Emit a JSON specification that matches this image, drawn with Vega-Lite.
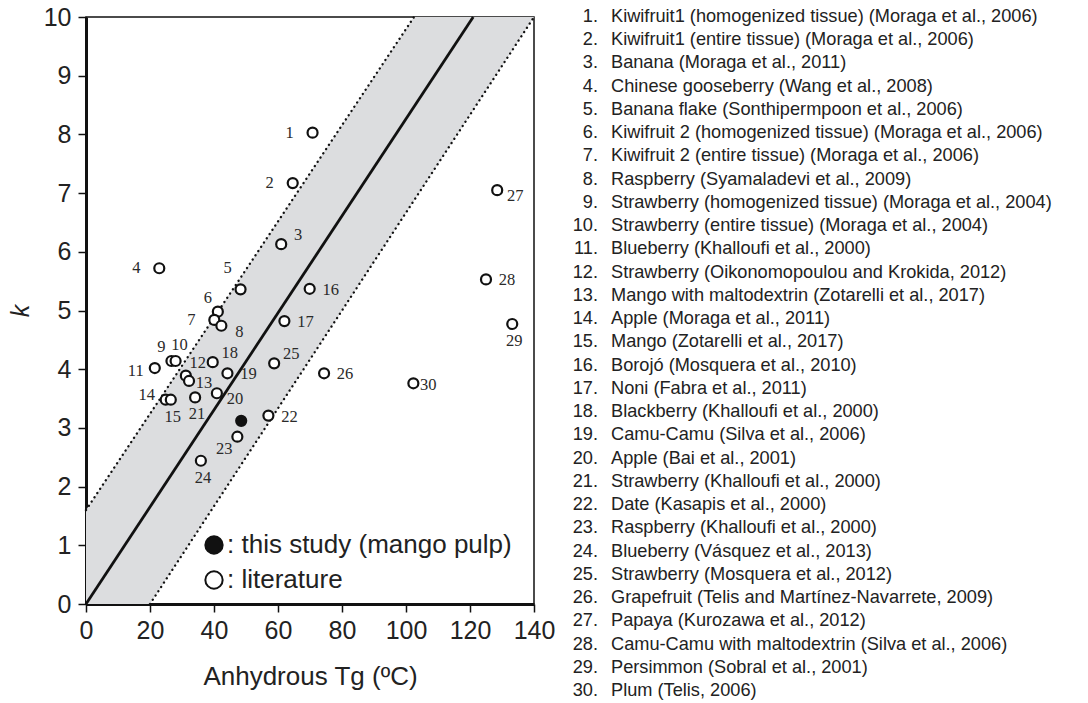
{
  "$schema": "https://vega.github.io/schema/vega-lite/v6.json",
  "background": "white",
  "padding": {"left": 7, "top": 4, "right": 0, "bottom": 0},
  "spacing": 1,
  "bounds": "flush",
  "config": {
    "font": "Liberation Sans",
    "view": {"stroke": "#111", "strokeWidth": 1.5},
    "axis": {
      "grid": false,
      "domainColor": "#111",
      "domainWidth": 3,
      "tickColor": "#111",
      "tickWidth": 1.5,
      "tickSize": 8,
      "labelFont": "Liberation Sans",
      "labelFontSize": 25,
      "labelColor": "#222",
      "titleFont": "Liberation Sans",
      "titleFontSize": 26,
      "titleFontWeight": "normal",
      "titleColor": "#222"
    }
  },
  "datasets": {
    "points": [
      {"id": 1, "name": "Kiwifruit1 (homogenized tissue) (Moraga et al., 2006)", "Tg": 70.8, "k": 8.03, "source": "literature"},
      {"id": 2, "name": "Kiwifruit1 (entire tissue) (Moraga et al., 2006)", "Tg": 64.6, "k": 7.17, "source": "literature"},
      {"id": 3, "name": "Banana (Moraga et al., 2011)", "Tg": 61.0, "k": 6.13, "source": "literature"},
      {"id": 4, "name": "Chinese gooseberry (Wang et al., 2008)", "Tg": 22.9, "k": 5.72, "source": "literature"},
      {"id": 5, "name": "Banana flake (Sonthipermpoon et al., 2006)", "Tg": 48.3, "k": 5.36, "source": "literature"},
      {"id": 6, "name": "Kiwifruit 2 (homogenized tissue) (Moraga et al., 2006)", "Tg": 41.2, "k": 4.98, "source": "literature"},
      {"id": 7, "name": "Kiwifruit 2 (entire tissue) (Moraga et al., 2006)", "Tg": 40.1, "k": 4.84, "source": "literature"},
      {"id": 8, "name": "Raspberry (Syamaladevi et al., 2009)", "Tg": 42.3, "k": 4.74, "source": "literature"},
      {"id": 9, "name": "Strawberry (homogenized tissue) (Moraga et al., 2004)", "Tg": 26.7, "k": 4.14, "source": "literature"},
      {"id": 10, "name": "Strawberry (entire tissue) (Moraga et al., 2004)", "Tg": 28.0, "k": 4.14, "source": "literature"},
      {"id": 11, "name": "Blueberry (Khalloufi et al., 2000)", "Tg": 21.5, "k": 4.02, "source": "literature"},
      {"id": 12, "name": "Strawberry (Oikonomopoulou and Krokida, 2012)", "Tg": 31.2, "k": 3.89, "source": "literature"},
      {"id": 13, "name": "Mango with maltodextrin (Zotarelli et al., 2017)", "Tg": 32.2, "k": 3.80, "source": "literature"},
      {"id": 14, "name": "Apple (Moraga et al., 2011)", "Tg": 24.9, "k": 3.48, "source": "literature"},
      {"id": 15, "name": "Mango (Zotarelli et al., 2017)", "Tg": 26.5, "k": 3.48, "source": "literature"},
      {"id": 16, "name": "Borojó (Mosquera et al., 2010)", "Tg": 69.9, "k": 5.37, "source": "literature"},
      {"id": 17, "name": "Noni (Fabra et al., 2011)", "Tg": 62.0, "k": 4.82, "source": "literature"},
      {"id": 18, "name": "Blackberry (Khalloufi et al., 2000)", "Tg": 39.6, "k": 4.12, "source": "literature"},
      {"id": 19, "name": "Camu-Camu (Silva et al., 2006)", "Tg": 44.2, "k": 3.93, "source": "literature"},
      {"id": 20, "name": "Apple (Bai et al., 2001)", "Tg": 40.9, "k": 3.59, "source": "literature"},
      {"id": 21, "name": "Strawberry (Khalloufi et al., 2000)", "Tg": 34.1, "k": 3.52, "source": "literature"},
      {"id": 22, "name": "Date (Kasapis et al., 2000)", "Tg": 57.0, "k": 3.21, "source": "literature"},
      {"id": 23, "name": "Raspberry (Khalloufi et al., 2000)", "Tg": 47.3, "k": 2.85, "source": "literature"},
      {"id": 24, "name": "Blueberry (Vásquez et al., 2013)", "Tg": 35.9, "k": 2.44, "source": "literature"},
      {"id": 25, "name": "Strawberry (Mosquera et al., 2012)", "Tg": 58.8, "k": 4.10, "source": "literature"},
      {"id": 26, "name": "Grapefruit (Telis and Martínez-Navarrete, 2009)", "Tg": 74.4, "k": 3.93, "source": "literature"},
      {"id": 27, "name": "Papaya (Kurozawa et al., 2012)", "Tg": 128.5, "k": 7.05, "source": "literature"},
      {"id": 28, "name": "Camu-Camu with maltodextrin (Silva et al., 2006)", "Tg": 125.0, "k": 5.53, "source": "literature"},
      {"id": 29, "name": "Persimmon (Sobral et al., 2001)", "Tg": 133.2, "k": 4.77, "source": "literature"},
      {"id": 30, "name": "Plum (Telis, 2006)", "Tg": 102.3, "k": 3.76, "source": "literature"},
      {"id": 0, "name": "this study (mango pulp)", "Tg": 48.5, "k": 3.12, "source": "this study (mango pulp)"}
    ],
    "band": [
      {"Tg": 0, "k": 0, "k2": 1.6},
      {"Tg": 20, "k": 0, "k2": 3.25},
      {"Tg": 102.5, "k": 6.87, "k2": 10},
      {"Tg": 140, "k": 10, "k2": 10}
    ],
    "lines": [
      {"line": "center", "Tg": 0, "k": 0},
      {"line": "center", "Tg": 121, "k": 10},
      {"line": "upper", "Tg": 0, "k": 1.6},
      {"line": "upper", "Tg": 102.5, "k": 10},
      {"line": "lower", "Tg": 20, "k": 0},
      {"line": "lower", "Tg": 140, "k": 10}
    ]
  },
  "hconcat": [
    {
      "width": 448,
      "height": 587,
      "encoding": {
        "x": {"field": "Tg", "type": "quantitative",
          "scale": {"domain": [0, 140], "nice": false, "zero": false},
          "axis": {"values": [0, 20, 40, 60, 80, 100, 120, 140], "title": "Anhydrous Tg (ºC)", "labelPadding": 6, "titlePadding": 20, "labelFlush": false}},
        "y": {"field": "k", "type": "quantitative",
          "scale": {"domain": [0, 10], "nice": false},
          "axis": {"values": [0, 1, 2, 3, 4, 5, 6, 7, 8, 9, 10], "title": "k", "titleFontStyle": "italic", "titleFontSize": 25, "labelPadding": 7, "titlePadding": 10, "labelFlush": false}}
      },
      "layer": [
        {"data": {"name": "band"}, "mark": {"type": "area", "color": "#dcdddf", "opacity": 1}, "encoding": {"y2": {"field": "k2"}}},
        {"data": {"name": "lines"}, "transform": [{"filter": "datum.line == 'center'"}], "mark": {"type": "line", "color": "#111", "strokeWidth": 2.8}, "encoding": {}},
        {"data": {"name": "lines"}, "transform": [{"filter": "datum.line != 'center'"}], "mark": {"type": "line", "color": "#111", "strokeWidth": 2.3, "strokeDash": [0.1, 5], "strokeCap": "round"}, "encoding": {"detail": {"field": "line"}}},
        {"data": {"name": "points"}, "mark": {"type": "point", "shape": "circle", "filled": true, "size": 100, "stroke": "#111", "strokeWidth": 2.2, "opacity": 1},
          "encoding": {"fill": {"field": "source", "type": "nominal",
            "scale": {"domain": ["this study (mango pulp)", "literature"], "range": ["#111", "#ffffff"]},
            "legend": {"orient": "none", "legendX": 115, "legendY": 515, "title": null, "symbolType": "circle", "symbolSize": 300, "symbolStrokeColor": "#111", "symbolStrokeWidth": 2, "symbolOpacity": 1, "labelFontSize": 26, "labelColor": "#222", "labelExpr": "': ' + datum.label", "rowPadding": 9, "labelOffset": 0, "padding": 0, "labelLimit": 500}}}},
        {"data": {"name": "points"}, "transform": [{"filter": {"field": "id", "oneOf": [1, 2, 4, 7]}}], "mark": {"type": "text", "dx": -23, "dy": 0, "font": "Liberation Serif", "fontSize": 16.5, "color": "#2a2a2a", "align": "center", "baseline": "middle"}, "encoding": {"text": {"field": "id"}}},
        {"data": {"name": "points"}, "transform": [{"filter": {"field": "id", "oneOf": [11]}}], "mark": {"type": "text", "dx": -19, "dy": 3, "font": "Liberation Serif", "fontSize": 16.5, "color": "#2a2a2a", "align": "center", "baseline": "middle"}, "encoding": {"text": {"field": "id"}}},
        {"data": {"name": "points"}, "transform": [{"filter": {"field": "id", "oneOf": [16, 17, 19, 22, 26, 28]}}], "mark": {"type": "text", "dx": 21, "dy": 1, "font": "Liberation Serif", "fontSize": 16.5, "color": "#2a2a2a", "align": "center", "baseline": "middle"}, "encoding": {"text": {"field": "id"}}},
        {"data": {"name": "points"}, "transform": [{"filter": {"field": "id", "oneOf": [13, 30]}}], "mark": {"type": "text", "dx": 15, "dy": 2, "font": "Liberation Serif", "fontSize": 16.5, "color": "#2a2a2a", "align": "center", "baseline": "middle"}, "encoding": {"text": {"field": "id"}}},
        {"data": {"name": "points"}, "transform": [{"filter": {"field": "id", "oneOf": [8, 20, 27]}}], "mark": {"type": "text", "dx": 18, "dy": 6, "font": "Liberation Serif", "fontSize": 16.5, "color": "#2a2a2a", "align": "center", "baseline": "middle"}, "encoding": {"text": {"field": "id"}}},
        {"data": {"name": "points"}, "transform": [{"filter": {"field": "id", "oneOf": [3, 18, 25]}}], "mark": {"type": "text", "dx": 17, "dy": -9, "font": "Liberation Serif", "fontSize": 16.5, "color": "#2a2a2a", "align": "center", "baseline": "middle"}, "encoding": {"text": {"field": "id"}}},
        {"data": {"name": "points"}, "transform": [{"filter": {"field": "id", "oneOf": [12]}}], "mark": {"type": "text", "dx": 12, "dy": -13, "font": "Liberation Serif", "fontSize": 16.5, "color": "#2a2a2a", "align": "center", "baseline": "middle"}, "encoding": {"text": {"field": "id"}}},
        {"data": {"name": "points"}, "transform": [{"filter": {"field": "id", "oneOf": [5]}}], "mark": {"type": "text", "dx": -13, "dy": -21, "font": "Liberation Serif", "fontSize": 16.5, "color": "#2a2a2a", "align": "center", "baseline": "middle"}, "encoding": {"text": {"field": "id"}}},
        {"data": {"name": "points"}, "transform": [{"filter": {"field": "id", "oneOf": [6, 9]}}], "mark": {"type": "text", "dx": -10, "dy": -14, "font": "Liberation Serif", "fontSize": 16.5, "color": "#2a2a2a", "align": "center", "baseline": "middle"}, "encoding": {"text": {"field": "id"}}},
        {"data": {"name": "points"}, "transform": [{"filter": {"field": "id", "oneOf": [14]}}], "mark": {"type": "text", "dx": -19, "dy": -5, "font": "Liberation Serif", "fontSize": 16.5, "color": "#2a2a2a", "align": "center", "baseline": "middle"}, "encoding": {"text": {"field": "id"}}},
        {"data": {"name": "points"}, "transform": [{"filter": {"field": "id", "oneOf": [10]}}], "mark": {"type": "text", "dx": 4, "dy": -16, "font": "Liberation Serif", "fontSize": 16.5, "color": "#2a2a2a", "align": "center", "baseline": "middle"}, "encoding": {"text": {"field": "id"}}},
        {"data": {"name": "points"}, "transform": [{"filter": {"field": "id", "oneOf": [15, 21, 24, 29]}}], "mark": {"type": "text", "dx": 2, "dy": 17, "font": "Liberation Serif", "fontSize": 16.5, "color": "#2a2a2a", "align": "center", "baseline": "middle"}, "encoding": {"text": {"field": "id"}}},
        {"data": {"name": "points"}, "transform": [{"filter": {"field": "id", "oneOf": [23]}}], "mark": {"type": "text", "dx": -13, "dy": 12, "font": "Liberation Serif", "fontSize": 16.5, "color": "#2a2a2a", "align": "center", "baseline": "middle"}, "encoding": {"text": {"field": "id"}}}
      ]
    },
    {
      "width": 140,
      "height": 674,
      "view": {"stroke": null},
      "data": {"name": "points"},
      "transform": [
        {"filter": "datum.source == 'literature'"},
        {"calculate": "datum.id + '.'", "as": "num"}
      ],
      "encoding": {
        "y": {"field": "id", "type": "ordinal", "scale": {"padding": 0}, "axis": null}
      },
      "layer": [
        {"mark": {"type": "text", "align": "right", "baseline": "middle", "dx": -7, "fontSize": 18.2, "color": "#222"}, "encoding": {"text": {"field": "num"}}},
        {"mark": {"type": "text", "align": "left", "baseline": "middle", "dx": 6, "fontSize": 18.2, "color": "#222"}, "encoding": {"text": {"field": "name"}}}
      ]
    }
  ]
}
